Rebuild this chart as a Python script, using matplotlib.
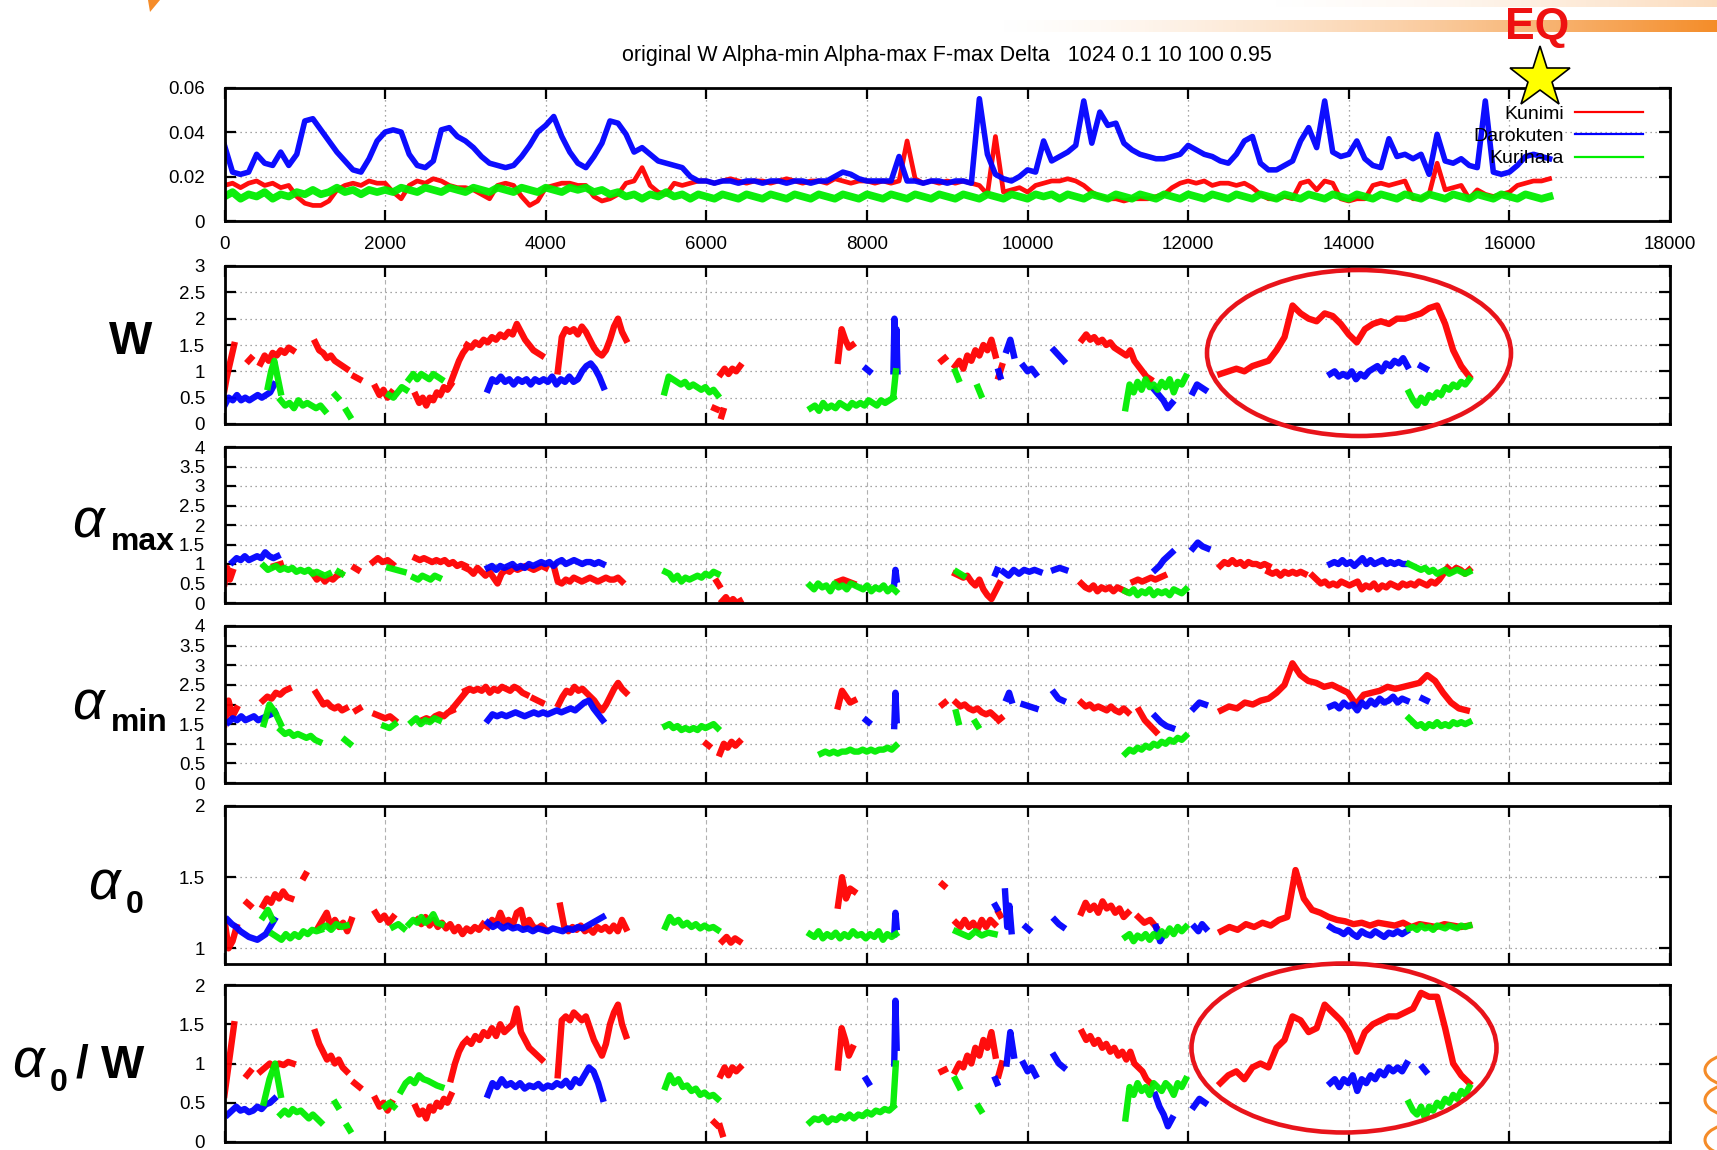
import numpy as np
import matplotlib
matplotlib.use("Agg")
import matplotlib.pyplot as plt
from matplotlib.patches import Ellipse, Arc, Polygon
from matplotlib.ticker import FuncFormatter

plt.rcParams['font.family'] = ['Liberation Sans', 'DejaVu Sans']

# ---------------- data ----------------
STATIONS = ["Kunimi", "Darokuten", "Kurihara"]
COLORS = ["#ff0000", "#0000ff", "#00ee00"]
TITLE = "original W Alpha-min Alpha-max F-max Delta   1024 0.1 10 100 0.95"
X_TICKS = [0, 2000, 4000, 6000, 8000, 10000, 12000, 14000, 16000, 18000]

# top panel: sample index 0..16500 every 100
TOP_X = list(range(0, 16501, 100))
TOP_KUNIMI = [
    0.016, 0.017, 0.015, 0.017, 0.018, 0.016, 0.017, 0.015, 0.016, 0.011,
    0.008, 0.007, 0.007, 0.009, 0.014, 0.016, 0.017, 0.016, 0.018, 0.017,
    0.017, 0.013, 0.010, 0.016, 0.018, 0.017, 0.019, 0.018, 0.016, 0.015,
    0.015, 0.014, 0.012, 0.010, 0.016, 0.017, 0.016, 0.011, 0.007, 0.009,
    0.015, 0.016, 0.017, 0.017, 0.016, 0.016, 0.011, 0.009, 0.010, 0.012,
    0.017, 0.018, 0.024, 0.016, 0.013, 0.012, 0.017, 0.016, 0.017, 0.018,
    0.018, 0.017, 0.018, 0.019, 0.018, 0.017, 0.018, 0.018, 0.017, 0.018,
    0.019, 0.018, 0.017, 0.018, 0.018, 0.017, 0.019, 0.018, 0.017, 0.018,
    0.018, 0.017, 0.018, 0.017, 0.018, 0.036, 0.019, 0.017, 0.018, 0.017,
    0.018, 0.017, 0.018, 0.017, 0.016, 0.012, 0.038, 0.013, 0.014, 0.015,
    0.013, 0.016, 0.017, 0.018, 0.018, 0.019, 0.018, 0.016, 0.013, 0.011,
    0.010, 0.010, 0.009, 0.010, 0.010, 0.010, 0.011, 0.012, 0.015, 0.017,
    0.018, 0.017, 0.018, 0.016, 0.017, 0.017, 0.016, 0.017, 0.015, 0.012,
    0.010, 0.010, 0.011, 0.010, 0.017, 0.018, 0.014, 0.018, 0.017, 0.010,
    0.009, 0.010, 0.010, 0.016, 0.017, 0.016, 0.017, 0.018, 0.010, 0.010,
    0.012, 0.026, 0.014, 0.015, 0.016, 0.010, 0.014, 0.012, 0.011, 0.012,
    0.013, 0.016, 0.017, 0.018, 0.018, 0.019]
TOP_DAROKUTEN = [
    0.034, 0.022, 0.021, 0.022, 0.030, 0.026, 0.025, 0.031, 0.025, 0.030,
    0.045, 0.046, 0.041, 0.036, 0.031, 0.027, 0.023, 0.022, 0.028, 0.036,
    0.040, 0.041, 0.040, 0.030, 0.025, 0.024, 0.027, 0.041, 0.042, 0.038,
    0.036, 0.033, 0.029, 0.026, 0.025, 0.024, 0.025, 0.029, 0.034, 0.040,
    0.043, 0.047, 0.038, 0.031, 0.026, 0.024, 0.029, 0.035, 0.045, 0.044,
    0.039, 0.031, 0.033, 0.030, 0.027, 0.026, 0.025, 0.024, 0.020, 0.018,
    0.018, 0.017, 0.018, 0.018, 0.017, 0.018, 0.018, 0.017, 0.018, 0.018,
    0.017, 0.018, 0.018, 0.017, 0.018, 0.018, 0.020, 0.022, 0.021, 0.019,
    0.018, 0.018, 0.018, 0.018, 0.029, 0.018, 0.018, 0.017, 0.018, 0.018,
    0.017, 0.018, 0.018, 0.017, 0.055, 0.030, 0.021, 0.019, 0.018, 0.020,
    0.023, 0.022, 0.036, 0.027, 0.029, 0.031, 0.034, 0.054, 0.035, 0.049,
    0.043, 0.044, 0.035, 0.032, 0.030, 0.029, 0.028, 0.028, 0.029, 0.030,
    0.034, 0.032, 0.030, 0.029, 0.027, 0.026, 0.030, 0.036, 0.038, 0.026,
    0.023, 0.023, 0.025, 0.027, 0.036, 0.042, 0.033, 0.054, 0.031, 0.029,
    0.030, 0.036, 0.028, 0.025, 0.024, 0.037, 0.029, 0.030, 0.028, 0.030,
    0.021, 0.039, 0.027, 0.026, 0.028, 0.025, 0.024, 0.054, 0.022, 0.021,
    0.022, 0.025, 0.029, 0.030, 0.029, 0.028]
TOP_KURIHARA = [
    0.011, 0.013, 0.010, 0.012, 0.011, 0.013, 0.010, 0.012, 0.011, 0.013,
    0.012, 0.014, 0.012, 0.013, 0.015, 0.013, 0.014, 0.012, 0.014, 0.013,
    0.014, 0.013, 0.015, 0.014, 0.013, 0.015, 0.014, 0.013, 0.015, 0.014,
    0.013, 0.015, 0.014, 0.013, 0.015, 0.014, 0.013, 0.015, 0.014, 0.013,
    0.015, 0.014, 0.013, 0.015, 0.014, 0.015, 0.013, 0.014, 0.012, 0.013,
    0.011, 0.012, 0.010, 0.012, 0.011, 0.013, 0.011, 0.012, 0.010, 0.012,
    0.011, 0.010, 0.012, 0.011, 0.010, 0.012, 0.011, 0.010, 0.012, 0.011,
    0.010, 0.012, 0.011, 0.010, 0.012, 0.011, 0.010, 0.012, 0.011, 0.010,
    0.012, 0.011, 0.010, 0.012, 0.011, 0.010, 0.012, 0.011, 0.010, 0.012,
    0.011, 0.010, 0.012, 0.011, 0.010, 0.012, 0.011, 0.010, 0.012, 0.011,
    0.010, 0.012, 0.011, 0.012, 0.010, 0.012, 0.011, 0.010, 0.012, 0.011,
    0.010, 0.012, 0.011, 0.010, 0.012, 0.011, 0.010, 0.012, 0.011, 0.010,
    0.012, 0.011, 0.010, 0.012, 0.011, 0.010, 0.012, 0.011, 0.010, 0.012,
    0.011, 0.010, 0.012, 0.011, 0.010, 0.012, 0.011, 0.010, 0.012, 0.011,
    0.010, 0.012, 0.011, 0.010, 0.012, 0.011, 0.010, 0.012, 0.011, 0.010,
    0.012, 0.011, 0.010, 0.012, 0.011, 0.010, 0.012, 0.011, 0.010, 0.012,
    0.011, 0.010, 0.012, 0.011, 0.010, 0.011]

# lower panels: segments (start index, end index, values evenly spread over the segment)
W_KUNIMI = [
    (0, 120, [0.65, 0.9, 1.1, 1.3, 1.5]),
    (300, 330, [1.2, 1.25]),
    (450, 850, [1.15, 1.3, 1.2, 1.35, 1.3, 1.4, 1.35, 1.45, 1.4]),
    (1130, 1520, [1.55, 1.4, 1.35, 1.25, 1.3, 1.2, 1.15, 1.1, 1.05]),
    (1620, 1680, [0.9, 0.85]),
    (1880, 2080, [0.7, 0.55, 0.65, 0.5, 0.6]),
    (2380, 2820, [0.55, 0.4, 0.5, 0.35, 0.5, 0.45, 0.6, 0.55, 0.7, 0.65, 0.75]),
    (2820, 3020, [0.8, 1.0, 1.2, 1.35, 1.45]),
    (3020, 3950, [1.5, 1.45, 1.55, 1.5, 1.6, 1.55, 1.65, 1.6, 1.7, 1.65, 1.75, 1.7, 1.9, 1.75, 1.6, 1.5, 1.4, 1.35, 1.3]),
    (4150, 5000, [1.0, 1.65, 1.8, 1.75, 1.8, 1.7, 1.85, 1.75, 1.6, 1.45, 1.35, 1.3, 1.4, 1.6, 1.85, 2.0, 1.75, 1.6]),
    (6100, 6130, [0.3, 0.28]),
    (6180, 6420, [0.95, 1.05, 0.95, 1.05, 1.0, 1.1]),
    (6190, 6210, [0.15, 0.25]),
    (7640, 7820, [1.2, 1.8, 1.6, 1.45, 1.5]),
    (8930, 8970, [1.2, 1.25]),
    (9100, 9600, [1.1, 1.2, 1.05, 1.3, 1.2, 1.4, 1.3, 1.5, 1.4, 1.6, 1.3]),
    (9640, 9680, [0.9, 1.1]),
    (10680, 11530, [1.6, 1.7, 1.6, 1.65, 1.55, 1.6, 1.5, 1.55, 1.45, 1.4, 1.35, 1.3, 1.4, 1.2, 1.1, 1.0, 0.9, 0.85]),
    (12400, 15500, [0.95, 1.0, 1.05, 1.0, 1.1, 1.15, 1.2, 1.4, 1.65, 2.25, 2.1, 2.0, 1.95, 2.1, 2.05, 1.9,
                    1.7, 1.55, 1.8, 1.9, 1.95, 1.9, 2.0, 2.0, 2.05, 2.1, 2.2, 2.25, 1.9, 1.4, 1.1, 0.9]),
]
W_DAROKUTEN = [
    (0, 620, [0.35, 0.5, 0.45, 0.55, 0.45, 0.5, 0.45, 0.5, 0.55, 0.5, 0.55, 0.6, 0.75]),
    (3280, 4720, [0.65, 0.85, 0.8, 0.9, 0.8, 0.85, 0.75, 0.85, 0.8, 0.85, 0.75, 0.85, 0.8, 0.85, 0.8,
                  0.9, 0.75, 0.85, 0.8, 0.9, 0.8, 0.85, 1.0, 1.1, 1.15, 1.05, 0.9, 0.7]),
    (7990, 8030, [1.05, 1.0]),
    (8330, 8380, [1.0, 2.0, 1.3, 1.8, 1.0]),
    (9640, 9660, [1.0, 0.9]),
    (9740, 9830, [1.4, 1.6, 1.3]),
    (9950, 10100, [1.1, 1.0, 1.05, 0.95]),
    (10330, 10450, [1.4, 1.3, 1.2]),
    (11580, 11800, [0.65, 0.55, 0.45, 0.3, 0.4]),
    (12060, 12210, [0.6, 0.75, 0.7, 0.65]),
    (13770, 14730, [0.95, 1.0, 0.9, 0.95, 0.9, 1.0, 0.85, 0.95, 0.9, 1.0, 1.05, 1.1, 1.0, 1.15, 1.1, 1.2, 1.15, 1.25, 1.1]),
    (14900, 14960, [1.1, 1.05]),
]
W_KURIHARA = [
    (540, 700, [0.7, 1.0, 1.2, 0.9, 0.6]),
    (700, 1250, [0.45, 0.35, 0.4, 0.3, 0.45, 0.35, 0.4, 0.35, 0.3, 0.35, 0.25]),
    (1380, 1410, [0.55, 0.5]),
    (1520, 1560, [0.25, 0.15]),
    (2050, 2260, [0.55, 0.5, 0.6, 0.7, 0.65]),
    (2300, 2700, [0.85, 0.95, 0.85, 0.95, 0.9, 0.85, 0.95, 0.9, 0.85]),
    (5480, 6140, [0.6, 0.9, 0.85, 0.8, 0.75, 0.8, 0.7, 0.75, 0.7, 0.65, 0.7, 0.6, 0.65, 0.55]),
    (7300, 8330, [0.3, 0.35, 0.25, 0.4, 0.3, 0.35, 0.3, 0.4, 0.35, 0.3, 0.4, 0.35, 0.4, 0.35, 0.45,
                  0.4, 0.35, 0.45, 0.4, 0.45, 0.5]),
    (8330, 8360, [0.55, 1.0]),
    (9100, 9140, [1.0, 0.85]),
    (9380, 9420, [0.7, 0.55]),
    (11220, 11970, [0.3, 0.75, 0.6, 0.8, 0.65, 0.85, 0.7, 0.75, 0.65, 0.8, 0.7, 0.85, 0.6, 0.8, 0.75, 0.9]),
    (14750, 15500, [0.6, 0.45, 0.35, 0.5, 0.4, 0.55, 0.5, 0.6, 0.55, 0.7, 0.65, 0.75, 0.7, 0.8, 0.75, 0.85]),
]

AMAX_KUNIMI = [
    (0, 100, [0.5, 0.9, 0.6, 0.8]),
    (620, 700, [0.95, 1.0]),
    (1100, 1450, [0.75, 0.6, 0.7, 0.55, 0.65, 0.6, 0.7, 0.75]),
    (1620, 1660, [0.9, 0.85]),
    (1850, 2090, [1.05, 1.15, 1.05, 1.1, 1.0]),
    (2380, 3000, [1.15, 1.1, 1.15, 1.1, 1.05, 1.1, 1.05, 1.1, 1.0, 1.05, 0.95, 1.0, 0.95]),
    (3000, 4000, [0.9, 0.85, 0.75, 0.9, 0.8, 0.7, 0.8, 0.65, 0.5, 0.75, 0.85, 0.8, 0.9, 0.85, 0.9,
                  0.95, 0.9, 0.85, 0.9, 0.95, 0.9]),
    (4100, 4950, [0.95, 0.55, 0.5, 0.6, 0.55, 0.65, 0.6, 0.55, 0.6, 0.65, 0.6, 0.55, 0.6, 0.65, 0.6, 0.6, 0.65, 0.55]),
    (6130, 6160, [0.55, 0.45]),
    (6200, 6420, [0.05, 0.15, 0.0, 0.1, 0.0, 0.05]),
    (7640, 7830, [0.55, 0.6, 0.55, 0.5]),
    (9100, 9650, [0.75, 0.7, 0.65, 0.7, 0.55, 0.45, 0.6, 0.35, 0.2, 0.1, 0.3, 0.5]),
    (10670, 11220, [0.5, 0.4, 0.35, 0.45, 0.3, 0.4, 0.35, 0.4, 0.3, 0.4, 0.35, 0.3]),
    (11320, 11700, [0.55, 0.6, 0.55, 0.6, 0.65, 0.6, 0.65, 0.7]),
    (12400, 13000, [0.95, 1.05, 1.0, 1.1, 1.0, 1.05, 0.95, 1.05, 1.0, 1.0, 0.95, 1.0, 0.95]),
    (13000, 13450, [0.8, 0.75, 0.8, 0.7, 0.8, 0.75, 0.8, 0.75, 0.8, 0.75]),
    (13550, 15230, [0.7, 0.6, 0.5, 0.55, 0.45, 0.5, 0.45, 0.55, 0.5, 0.45, 0.5, 0.55, 0.35, 0.45, 0.4, 0.5, 0.35,
                    0.45, 0.4, 0.5, 0.45, 0.4, 0.5, 0.45, 0.5, 0.45, 0.55, 0.5, 0.45, 0.55, 0.5, 0.6, 0.75, 0.85]),
    (15230, 15500, [0.9, 0.8, 0.9, 0.85, 0.75, 0.85]),
]
AMAX_DAROKUTEN = [
    (100, 660, [1.05, 1.15, 1.1, 1.2, 1.1, 1.15, 1.2, 1.15, 1.3, 1.2, 1.15, 1.2]),
    (3280, 4710, [0.9, 0.95, 0.85, 0.95, 0.9, 0.95, 1.0, 0.9, 0.95, 0.9, 1.0, 0.95, 1.0, 1.05, 1.0, 1.05,
                  0.95, 1.05, 1.1, 1.0, 1.05, 1.1, 1.05, 1.0, 1.05, 1.05, 1.0, 1.05, 1.0]),
    (8340, 8370, [0.5, 0.85, 0.6]),
    (9600, 9620, [0.75, 0.85]),
    (9700, 10150, [0.8, 0.7, 0.85, 0.75, 0.85, 0.8, 0.85, 0.8]),
    (10330, 10470, [0.85, 0.9, 0.85]),
    (11590, 11800, [0.85, 0.95, 1.1, 1.2, 1.3]),
    (12060, 12240, [1.4, 1.55, 1.45, 1.4]),
    (13770, 14720, [1.0, 1.05, 1.0, 1.1, 1.0, 1.05, 0.95, 1.05, 1.15, 1.0, 1.1, 1.0, 1.05, 1.1, 1.0, 1.05, 1.0, 1.05, 1.0, 1.0]),
]
AMAX_KURIHARA = [
    (490, 1300, [0.95, 0.85, 0.9, 0.95, 0.85, 0.9, 0.85, 0.9, 0.8, 0.85, 0.8, 0.85, 0.75, 0.8, 0.75, 0.7, 0.75]),
    (1420, 1460, [0.8, 0.75]),
    (2050, 2230, [0.9, 0.85, 0.8]),
    (2360, 2670, [0.65, 0.6, 0.7, 0.65, 0.6, 0.7, 0.65]),
    (5490, 6140, [0.8, 0.75, 0.6, 0.7, 0.55, 0.65, 0.6, 0.65, 0.7, 0.65, 0.75, 0.7, 0.8, 0.75]),
    (7290, 8360, [0.45, 0.35, 0.5, 0.4, 0.45, 0.3, 0.5, 0.4, 0.45, 0.35, 0.5, 0.45, 0.4, 0.35, 0.45, 0.3,
                  0.4, 0.35, 0.45, 0.3, 0.4, 0.3]),
    (9120, 9200, [0.8, 0.7]),
    (11220, 11970, [0.3, 0.25, 0.35, 0.2, 0.3, 0.25, 0.35, 0.2, 0.3, 0.25, 0.3, 0.2, 0.35, 0.3, 0.25, 0.35]),
    (14750, 15500, [1.0, 0.95, 0.9, 0.85, 0.9, 0.8, 0.85, 0.75, 0.8, 0.85, 0.75, 0.8, 0.85, 0.8, 0.75, 0.8]),
]

AMIN_KUNIMI = [
    (0, 150, [1.5, 2.1, 1.7, 1.9]),
    (480, 800, [2.1, 2.2, 2.15, 2.3, 2.25, 2.35, 2.4]),
    (1140, 1510, [2.3, 2.15, 2.0, 2.05, 1.95, 1.9, 1.95, 1.85, 1.9]),
    (1640, 1680, [1.85, 1.9]),
    (1880, 2120, [1.75, 1.7, 1.65, 1.7, 1.6]),
    (2460, 2840, [1.6, 1.65, 1.6, 1.7, 1.75, 1.7, 1.8, 1.85]),
    (2840, 3000, [1.9, 2.1, 2.3]),
    (3000, 3760, [2.35, 2.4, 2.35, 2.4, 2.35, 2.45, 2.3, 2.4, 2.35, 2.45, 2.4, 2.35, 2.45, 2.4, 2.3, 2.25]),
    (3850, 3950, [2.15, 2.05]),
    (4160, 5000, [2.0, 2.2, 2.35, 2.3, 2.45, 2.35, 2.4, 2.3, 2.2, 2.1, 1.95, 1.85, 2.0, 2.2, 2.4, 2.55, 2.4, 2.3]),
    (6000, 6030, [1.0, 0.95]),
    (6170, 6410, [0.75, 1.0, 0.9, 1.05, 0.95, 1.05]),
    (7640, 7840, [1.95, 2.35, 2.2, 2.05, 2.1]),
    (8940, 8970, [2.0, 2.05]),
    (9110, 9590, [2.05, 1.95, 2.0, 1.9, 1.85, 1.9, 1.8, 1.75, 1.8, 1.7]),
    (9640, 9670, [1.6, 1.65]),
    (10670, 11250, [2.05, 1.95, 2.0, 1.9, 1.95, 1.9, 1.85, 1.95, 1.85, 1.8, 1.9, 1.8]),
    (11390, 11600, [1.85, 1.6, 1.45, 1.3]),
    (12410, 15470, [1.85, 1.95, 1.9, 2.05, 2.0, 2.1, 2.15, 2.3, 2.5, 3.05, 2.75, 2.6, 2.55, 2.45, 2.5, 2.4,
                    2.3, 2.0, 2.25, 2.3, 2.35, 2.45, 2.4, 2.45, 2.5, 2.55, 2.75, 2.6, 2.3, 2.05, 1.9, 1.85]),
]
AMIN_DAROKUTEN = [
    (50, 630, [1.55, 1.65, 1.6, 1.7, 1.6, 1.65, 1.7, 1.6, 1.65, 1.7, 1.75, 1.8]),
    (3280, 4710, [1.6, 1.75, 1.7, 1.75, 1.7, 1.75, 1.8, 1.75, 1.7, 1.75, 1.8, 1.75, 1.8, 1.75, 1.8, 1.85,
                  1.8, 1.85, 1.9, 1.85, 1.95, 2.05, 2.1, 1.9, 1.75, 1.6]),
    (7990, 8020, [1.6, 1.55]),
    (8340, 8370, [1.45, 2.3, 1.6]),
    (9740, 9800, [2.15, 2.3, 2.1]),
    (9950, 10100, [2.0, 1.95, 1.9]),
    (10330, 10440, [2.3, 2.15, 2.1]),
    (11590, 11800, [1.7, 1.55, 1.45, 1.4]),
    (12070, 12210, [1.9, 2.05, 2.0]),
    (13770, 14720, [1.95, 2.0, 1.9, 2.05, 1.95, 2.0, 1.85, 2.05, 1.95, 2.1, 2.0, 2.15, 2.05, 2.1, 2.2, 2.05, 2.15, 2.1]),
    (14920, 14970, [2.15, 2.1]),
]
AMIN_KURIHARA = [
    (490, 700, [1.5, 2.0, 1.8, 1.5]),
    (700, 1180, [1.35, 1.25, 1.3, 1.2, 1.25, 1.2, 1.15, 1.2, 1.1, 1.05]),
    (1500, 1560, [1.1, 1.0]),
    (1990, 2120, [1.45, 1.4, 1.5]),
    (2330, 2670, [1.55, 1.65, 1.5, 1.6, 1.55, 1.65, 1.6]),
    (5490, 6140, [1.45, 1.5, 1.4, 1.45, 1.35, 1.4, 1.35, 1.4, 1.35, 1.45, 1.4, 1.45, 1.5, 1.4]),
    (7430, 8360, [0.75, 0.8, 0.75, 0.8, 0.75, 0.8, 0.8, 0.85, 0.8, 0.8, 0.85, 0.8, 0.85, 0.8, 0.85, 0.85, 0.9, 0.85, 0.95]),
    (9110, 9140, [1.8, 1.55]),
    (9350, 9380, [1.55, 1.45]),
    (11220, 11970, [0.75, 0.85, 0.8, 0.9, 0.85, 0.95, 0.9, 1.0, 0.95, 1.05, 1.0, 1.1, 1.05, 1.15, 1.1, 1.2]),
    (14750, 15500, [1.65, 1.55, 1.45, 1.5, 1.4, 1.5, 1.45, 1.55, 1.45, 1.5, 1.45, 1.55, 1.5, 1.55, 1.5, 1.55]),
]

A0_KUNIMI = [
    (0, 150, [1.2, 1.0, 1.05, 1.15]),
    (280, 320, [1.32, 1.3]),
    (480, 830, [1.3, 1.35, 1.32, 1.38, 1.35, 1.4, 1.36, 1.35]),
    (990, 1010, [1.5, 1.52]),
    (1170, 1580, [1.15, 1.2, 1.25, 1.15, 1.2, 1.15, 1.18, 1.12, 1.2]),
    (1880, 2100, [1.25, 1.2, 1.23, 1.18, 1.22]),
    (2400, 3220, [1.2, 1.17, 1.22, 1.16, 1.2, 1.15, 1.18, 1.14, 1.17, 1.12, 1.15, 1.1, 1.14, 1.12, 1.15, 1.13, 1.17]),
    (3280, 4000, [1.15, 1.2, 1.17, 1.25, 1.18, 1.2, 1.16, 1.25, 1.27, 1.15, 1.2, 1.15, 1.14, 1.16, 1.13]),
    (4180, 5000, [1.3, 1.15, 1.12, 1.15, 1.13, 1.16, 1.12, 1.14, 1.11, 1.15, 1.13, 1.15, 1.12, 1.16, 1.12, 1.2, 1.14]),
    (6200, 6410, [1.05, 1.08, 1.04, 1.07, 1.05]),
    (7640, 7840, [1.3, 1.5, 1.35, 1.42, 1.4]),
    (8940, 8960, [1.45, 1.44]),
    (9110, 9590, [1.18, 1.15, 1.2, 1.15, 1.18, 1.13, 1.2, 1.15, 1.2, 1.17]),
    (9640, 9660, [1.25, 1.23]),
    (10670, 11250, [1.25, 1.32, 1.27, 1.3, 1.25, 1.33, 1.28, 1.3, 1.25, 1.28, 1.22, 1.25]),
    (11380, 11600, [1.22, 1.18, 1.2, 1.15]),
    (12410, 15500, [1.12, 1.15, 1.13, 1.17, 1.15, 1.18, 1.16, 1.2, 1.22, 1.55, 1.35, 1.27, 1.25, 1.22, 1.2, 1.19,
                    1.17, 1.18, 1.16, 1.18, 1.17, 1.16, 1.18, 1.15, 1.17, 1.16, 1.15, 1.17, 1.16, 1.15, 1.16]),
]
A0_DAROKUTEN = [
    (40, 620, [1.2, 1.17, 1.15, 1.12, 1.1, 1.08, 1.07, 1.06, 1.08, 1.1, 1.15, 1.2]),
    (3280, 4710, [1.18, 1.15, 1.17, 1.14, 1.16, 1.14, 1.15, 1.13, 1.14, 1.12, 1.14, 1.13, 1.12, 1.14, 1.13, 1.12,
                  1.14, 1.13, 1.15, 1.14, 1.16, 1.18, 1.2, 1.22]),
    (8340, 8370, [1.1, 1.25, 1.15]),
    (9600, 9620, [1.3, 1.28]),
    (9720, 9800, [1.4, 1.15, 1.3, 1.12]),
    (9980, 10020, [1.15, 1.13]),
    (10340, 10440, [1.2, 1.17, 1.15]),
    (11600, 11700, [1.15, 1.05, 1.1]),
    (12080, 12220, [1.15, 1.12, 1.17, 1.14]),
    (13770, 14720, [1.15, 1.13, 1.12, 1.1, 1.13, 1.1, 1.08, 1.12, 1.1, 1.09, 1.12, 1.1, 1.08, 1.11, 1.1, 1.12, 1.1, 1.12]),
]
A0_KURIHARA = [
    (480, 600, [1.22, 1.27, 1.2]),
    (600, 1200, [1.1, 1.08, 1.06, 1.1, 1.07, 1.1, 1.08, 1.12, 1.1, 1.13, 1.12, 1.13]),
    (1200, 1520, [1.14, 1.16, 1.13, 1.17, 1.15, 1.16]),
    (2100, 2230, [1.15, 1.17, 1.14]),
    (2300, 2700, [1.17, 1.2, 1.18, 1.22, 1.18, 1.2, 1.24, 1.18, 1.17]),
    (5490, 6140, [1.15, 1.22, 1.18, 1.2, 1.16, 1.18, 1.15, 1.17, 1.14, 1.16, 1.14, 1.15, 1.13]),
    (7290, 8360, [1.1, 1.08, 1.12, 1.07, 1.1, 1.08, 1.11, 1.07, 1.1, 1.08, 1.12, 1.09, 1.1, 1.07, 1.1, 1.08,
                  1.12, 1.06, 1.1, 1.08, 1.1]),
    (9110, 9590, [1.12, 1.1, 1.08, 1.12, 1.09, 1.11, 1.1]),
    (11220, 11970, [1.08, 1.1, 1.05, 1.09, 1.07, 1.1, 1.06, 1.1, 1.08, 1.12, 1.09, 1.14, 1.1, 1.15, 1.12, 1.15]),
    (14750, 15500, [1.14, 1.15, 1.13, 1.16, 1.14, 1.15, 1.13, 1.16, 1.15, 1.14, 1.16, 1.15, 1.14, 1.16, 1.15, 1.16]),
]

A0W_KUNIMI = [
    (0, 120, [0.6, 0.9, 1.2, 1.5]),
    (280, 320, [0.85, 0.9]),
    (450, 850, [0.9, 0.95, 1.0, 0.95, 1.0, 0.98, 1.02, 1.0]),
    (1130, 1520, [1.4, 1.25, 1.15, 1.05, 1.1, 1.0, 1.05, 0.95, 0.9]),
    (1620, 1680, [0.75, 0.7]),
    (1880, 2080, [0.55, 0.45, 0.5, 0.4, 0.5]),
    (2380, 2820, [0.45, 0.35, 0.4, 0.3, 0.45, 0.4, 0.5, 0.45, 0.55, 0.5, 0.6]),
    (2820, 3020, [0.8, 1.0, 1.15, 1.25, 1.3]),
    (3020, 3950, [1.3, 1.25, 1.35, 1.3, 1.4, 1.35, 1.45, 1.35, 1.5, 1.4, 1.45, 1.5, 1.7, 1.4, 1.3, 1.2, 1.15, 1.1, 1.05]),
    (4150, 5000, [0.85, 1.55, 1.6, 1.55, 1.65, 1.6, 1.55, 1.6, 1.45, 1.3, 1.2, 1.1, 1.25, 1.5, 1.65, 1.75, 1.5, 1.35]),
    (6100, 6130, [0.25, 0.22]),
    (6170, 6200, [0.2, 0.1]),
    (6180, 6420, [0.85, 0.95, 0.85, 0.95, 0.9, 0.95]),
    (7640, 7820, [0.95, 1.45, 1.3, 1.1, 1.2]),
    (8930, 8970, [0.9, 0.92]),
    (9100, 9600, [0.9, 1.0, 0.95, 1.1, 1.0, 1.2, 1.1, 1.3, 1.2, 1.4, 1.1]),
    (9640, 9680, [0.85, 1.0]),
    (10680, 11530, [1.4, 1.3, 1.35, 1.25, 1.3, 1.2, 1.25, 1.15, 1.2, 1.1, 1.15, 1.05, 1.15, 1.0, 0.95, 0.9, 0.8, 0.75]),
    (12400, 15500, [0.75, 0.85, 0.9, 0.8, 0.95, 1.0, 0.95, 1.2, 1.3, 1.6, 1.55, 1.4, 1.45, 1.75, 1.65, 1.55,
                    1.4, 1.15, 1.4, 1.5, 1.55, 1.6, 1.6, 1.65, 1.7, 1.9, 1.85, 1.85, 1.45, 1.0, 0.85, 0.75]),
]
A0W_DAROKUTEN = [
    (40, 620, [0.35, 0.4, 0.45, 0.4, 0.42, 0.38, 0.4, 0.45, 0.42, 0.48, 0.5, 0.55]),
    (3280, 4710, [0.6, 0.75, 0.7, 0.8, 0.72, 0.75, 0.7, 0.75, 0.68, 0.72, 0.7, 0.74, 0.68, 0.72, 0.7, 0.75,
                  0.72, 0.78, 0.7, 0.8, 0.75, 0.85, 0.95, 0.9, 0.75, 0.55]),
    (7990, 8020, [0.8, 0.75]),
    (8340, 8370, [1.0, 1.8, 1.2]),
    (9600, 9620, [0.8, 0.75]),
    (9740, 9830, [1.0, 1.4, 1.1]),
    (9950, 10100, [1.0, 0.9, 0.95, 0.85]),
    (10330, 10450, [1.1, 1.0, 0.95]),
    (11590, 11800, [0.6, 0.45, 0.35, 0.2, 0.3]),
    (12070, 12210, [0.45, 0.55, 0.5]),
    (13770, 14720, [0.75, 0.8, 0.7, 0.8, 0.75, 0.85, 0.65, 0.8, 0.75, 0.85, 0.8, 0.9, 0.85, 0.95, 0.9, 0.95, 0.9, 1.0]),
    (14920, 14960, [0.95, 0.9]),
]
A0W_KURIHARA = [
    (490, 700, [0.5, 0.8, 1.0, 0.6]),
    (700, 1200, [0.35, 0.4, 0.35, 0.42, 0.38, 0.4, 0.35, 0.3, 0.35, 0.3, 0.25]),
    (1380, 1410, [0.5, 0.45]),
    (1530, 1560, [0.2, 0.15]),
    (2000, 2110, [0.45, 0.5, 0.45]),
    (2200, 2700, [0.65, 0.75, 0.8, 0.75, 0.85, 0.8, 0.78, 0.75, 0.72, 0.7]),
    (5490, 6140, [0.7, 0.85, 0.75, 0.8, 0.7, 0.72, 0.65, 0.68, 0.6, 0.63, 0.58, 0.6, 0.55]),
    (7290, 8330, [0.25, 0.3, 0.28, 0.32, 0.25, 0.3, 0.28, 0.33, 0.3, 0.35, 0.3, 0.35, 0.33, 0.38, 0.35, 0.4,
                  0.38, 0.42, 0.4, 0.45]),
    (8330, 8360, [0.5, 1.0]),
    (9100, 9150, [0.8, 0.7]),
    (9390, 9420, [0.45, 0.4]),
    (11220, 11970, [0.3, 0.7, 0.6, 0.75, 0.65, 0.7, 0.6, 0.75, 0.7, 0.65, 0.75, 0.7, 0.6, 0.75, 0.7, 0.8]),
    (14750, 15500, [0.5, 0.4, 0.35, 0.45, 0.3, 0.45, 0.4, 0.5, 0.45, 0.55, 0.5, 0.6, 0.55, 0.65, 0.6, 0.7]),
]

W_TICKS = [0, 0.5, 1, 1.5, 2, 2.5, 3]
AMAX_TICKS = [0, 0.5, 1, 1.5, 2, 2.5, 3, 3.5, 4]
AMIN_TICKS = [0, 0.5, 1, 1.5, 2, 2.5, 3, 3.5, 4]
A0_TICKS = [1, 1.5, 2]
A0W_TICKS = [0, 0.5, 1, 1.5, 2]
TOP_TICKS = [0, 0.02, 0.04, 0.06]

# ---------------- figure ----------------
W_PX, H_PX = 1717, 1150
fig = plt.figure(figsize=(W_PX / 100, H_PX / 100), dpi=100)
fig.patch.set_facecolor("white")

LEFT, RIGHT = 224.5, 1670.0


def rect(top, bottom):
    return [LEFT / W_PX, 1 - bottom / H_PX, (RIGHT - LEFT) / W_PX, (bottom - top) / H_PX]


def seg_xy(segments):
    xs, ys = [], []
    for x0, x1, vals in segments:
        xs.extend(np.linspace(x0, x1, len(vals)))
        ys.extend(vals)
        xs.append(np.nan)
        ys.append(np.nan)
    return np.array(xs), np.array(ys)


TICK_FS = 13.5


def style(ax, ylim, yticks, xlabels=False, top=False):
    ax.set_xlim(0, 18000)
    ax.set_ylim(*ylim)
    ax.set_xticks(X_TICKS)
    ax.set_yticks(yticks)
    ax.yaxis.set_major_formatter(FuncFormatter(lambda v, p: ("%g" % v)))
    ax.tick_params(direction="in", length=8, width=1.6, top=True, right=True,
                   labelsize=TICK_FS, pad=11)
    ax.tick_params(axis="y", pad=14)
    if not xlabels:
        ax.tick_params(axis="x", labelbottom=False)
    for s in ax.spines.values():
        s.set_linewidth(2.0)
    ax.grid(True, axis="y", linestyle=(0, (1, 3)), color="#888888", linewidth=0.9)
    if top:
        ax.grid(True, axis="x", linestyle=(0, (1, 3)), color="#888888", linewidth=0.9)
    else:
        ax.grid(True, axis="x", linestyle=(0, (4, 3)), color="#b0b0b0", linewidth=0.8)
    ax.set_axisbelow(True)


# top panel
ax0 = fig.add_axes(rect(87.6, 221))
lws_top = [3.4, 4.0, 5.5]
for name, col, vals, lw in zip(STATIONS, COLORS, [TOP_KUNIMI, TOP_DAROKUTEN, TOP_KURIHARA], lws_top):
    ax0.plot(TOP_X, vals, color=col, lw=lw, label=name, alpha=0.95)
style(ax0, (0, 0.06), TOP_TICKS, xlabels=True, top=True)
ax0.xaxis.set_major_formatter(FuncFormatter(lambda v, p: "%d" % v))
leg = ax0.legend(loc="upper right", bbox_to_anchor=(0.9813, 0.87), frameon=False,
                 markerfirst=False, handlelength=3.5, handletextpad=0.55, labelspacing=0.25,
                 borderpad=0, borderaxespad=0, fontsize=14)
for h in leg.legend_handles:
    h.set_linewidth(1.6)
    h.set_alpha(1)

panels = [
    ((266, 424), (0, 3), W_TICKS, [W_KUNIMI, W_DAROKUTEN, W_KURIHARA]),
    ((447, 603), (0, 4), AMAX_TICKS, [AMAX_KUNIMI, AMAX_DAROKUTEN, AMAX_KURIHARA]),
    ((626, 783), (0, 4), AMIN_TICKS, [AMIN_KUNIMI, AMIN_DAROKUTEN, AMIN_KURIHARA]),
    ((806, 964), (0.89, 2), A0_TICKS, [A0_KUNIMI, A0_DAROKUTEN, A0_KURIHARA]),
    ((985, 1142), (0, 2), A0W_TICKS, [A0W_KUNIMI, A0W_DAROKUTEN, A0W_KURIHARA]),
]
for (tp, bt), ylim, yt, series in panels:
    ax = fig.add_axes(rect(tp, bt))
    for col, segs in zip(COLORS, series):
        x, y = seg_xy(segs)
        ax.plot(x, y, color=col, lw=4.6, alpha=0.95)
    style(ax, ylim, yt)

# ---------------- overlay (decorations, labels) ----------------
ov = fig.add_axes([0, 0, 1, 1], zorder=10)
ov.set_xlim(0, W_PX)
ov.set_ylim(H_PX, 0)
ov.axis("off")
ov.patch.set_visible(False)

orange = np.array([0.96, 0.55, 0.16])
n = 300
band = np.zeros((1, n, 4))
band[0, :, :3] = orange
band[0, :, 3] = np.linspace(0, 1, n) ** 1.6
ov.imshow(band, extent=[980, W_PX, 32, 20], aspect="auto", interpolation="bilinear", zorder=1)
band2 = np.zeros((1, n, 4))
band2[0, :, :3] = orange
band2[0, :, 3] = np.linspace(0, 0.45, n) ** 1.5
ov.imshow(band2, extent=[1250, W_PX, 7, 0], aspect="auto", interpolation="bilinear", zorder=1)
ov.add_patch(Polygon([(148, 0), (160, 0), (150, 12)], closed=True, color=orange, lw=0, zorder=1))
for cy in (1070, 1100, 1140):
    ov.add_patch(Arc((1745, cy), 80, 36, theta1=150, theta2=210, color=orange, lw=2.2, zorder=1))

ov.text(947, 55, TITLE, ha="center", va="center", fontsize=15.5)

ov.text(1537, 27, "EQ", color="#ee1111", fontsize=32, fontweight="bold", ha="center", va="center", zorder=3)
ov.plot([1540], [78], marker="*", markersize=46, markerfacecolor="#ffff00", markeredgecolor="black",
        markeredgewidth=1.2, zorder=4)

ov.add_patch(Ellipse((1359, 353), 304, 166, fill=False, ec="#e8141b", lw=3.3, zorder=5))
ov.add_patch(Ellipse((1344, 1048), 305, 169, fill=False, ec="#e8141b", lw=3.3, zorder=5))

# left panel labels
ov.text(131, 342, "W", fontsize=33, fontweight="bold", ha="center", va="center")
ov.text(88, 524, "α", fontsize=40, style="italic", ha="center", va="center")
ov.text(111, 542, "max", fontsize=23, fontweight="bold", ha="left", va="center")
ov.text(88, 706, "α", fontsize=40, style="italic", ha="center", va="center")
ov.text(111, 723, "min", fontsize=23, fontweight="bold", ha="left", va="center")
ov.text(104, 886, "α", fontsize=40, style="italic", ha="center", va="center")
ov.text(126, 905, "0", fontsize=23, fontweight="bold", ha="left", va="center")
ov.text(28, 1063, "α", fontsize=40, style="italic", ha="center", va="center")
ov.text(50, 1083, "0", fontsize=23, fontweight="bold", ha="left", va="center")
ov.text(82, 1066, "/", fontsize=33, fontweight="bold", ha="center", va="center")
ov.text(123, 1066, "W", fontsize=33, fontweight="bold", ha="center", va="center")

fig.savefig("out.png", dpi=100, facecolor="white")
